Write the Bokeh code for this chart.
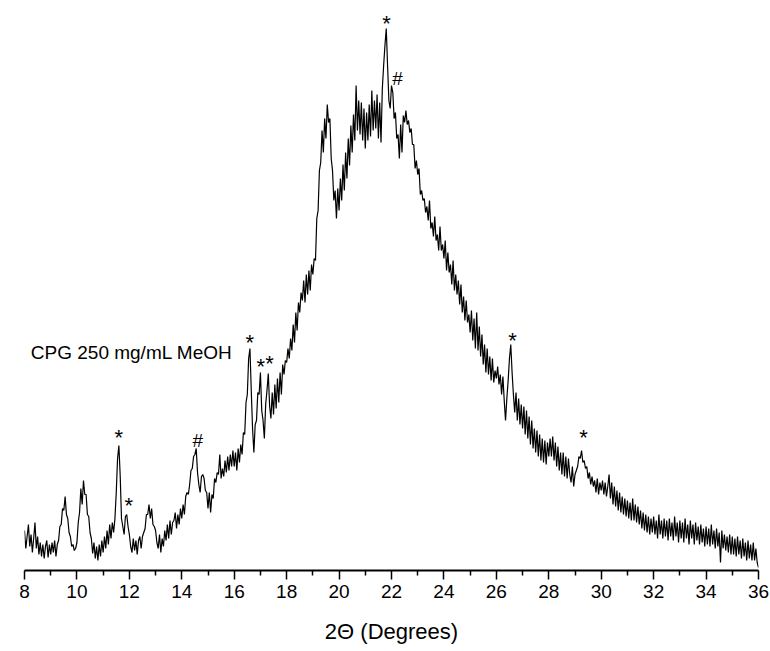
import numpy as np
from bokeh.plotting import figure
from bokeh.models import Range1d, FixedTicker, Label, ColumnDataSource
from bokeh.core.properties import value
from bokeh.embed import file_html
from bokeh.resources import INLINE

# 2-theta sampling grid: 8.00 .. 36.00 in 0.05 degree steps
two_theta_start = 8.0
two_theta_step = 0.05

# Intensity (arbitrary units), one row per degree (x.00 .. x.95)
intensity = (
    [40, 22, 34, 46, 24, 36, 18, 32, 48, 22, 34, 16, 28, 14, 26, 12, 24, 30, 13, 26]        # 8
    + [16, 28, 18, 30, 14, 26, 30, 44, 46, 62, 60, 74, 56, 52, 38, 34, 24, 26, 20, 22]      # 9
    + [28, 48, 58, 82, 66, 90, 76, 76, 56, 54, 38, 32, 17, 28, 12, 24, 10, 26, 14, 30]      # 10
    + [18, 34, 22, 40, 26, 46, 32, 48, 38, 52, 78, 112, 125, 95, 52, 44, 36, 54, 56, 44]    # 11
    + [36, 24, 18, 32, 20, 30, 16, 30, 34, 22, 34, 38, 42, 56, 56, 66, 52, 62, 46, 44]      # 12
    + [40, 28, 22, 36, 18, 32, 24, 40, 30, 46, 32, 50, 36, 48, 50, 58, 42, 56, 46, 62]      # 13
    + [52, 66, 56, 74, 78, 76, 86, 100, 102, 114, 116, 122, 98, 86, 78, 94, 96, 92, 80, 78]  # 14
    + [62, 78, 58, 76, 72, 92, 88, 98, 96, 116, 92, 102, 94, 110, 98, 114, 100, 116, 104, 120]  # 15
    + [104, 118, 100, 122, 108, 126, 116, 138, 136, 168, 176, 212, 222, 180, 142, 118, 146, 150, 178, 176]  # 16
    + [198, 160, 150, 132, 166, 180, 197, 165, 152, 178, 156, 186, 162, 192, 168, 198, 176, 206, 196, 210]  # 17
    + [208, 222, 212, 232, 220, 246, 228, 258, 240, 268, 258, 278, 270, 290, 268, 296, 276, 300, 280, 306]  # 18
    + [296, 312, 310, 352, 360, 400, 408, 440, 418, 452, 432, 466, 448, 452, 412, 400, 370, 380, 352, 382]  # 19
    + [360, 392, 370, 406, 380, 418, 392, 432, 405, 445, 418, 456, 430, 485, 440, 470, 436, 468, 430, 462]  # 20
    + [422, 458, 430, 466, 434, 480, 440, 470, 442, 476, 432, 468, 428, 482, 505, 525, 542, 505, 470, 462]  # 21
    + [485, 478, 452, 458, 432, 436, 412, 446, 418, 455, 448, 460, 446, 450, 438, 442, 426, 426, 402, 410]  # 22
    + [396, 402, 376, 380, 370, 372, 358, 364, 350, 370, 342, 348, 334, 354, 330, 336, 320, 344, 320, 326]  # 23
    + [312, 330, 300, 318, 298, 306, 286, 310, 280, 296, 276, 290, 266, 286, 258, 274, 250, 270, 248, 256]  # 24
    + [238, 260, 230, 252, 222, 258, 220, 244, 214, 236, 206, 226, 198, 222, 196, 214, 190, 212, 188, 200]  # 25
    + [192, 204, 186, 196, 176, 194, 170, 150, 172, 190, 212, 226, 198, 176, 158, 178, 150, 172, 146, 166]  # 26
    + [142, 164, 136, 160, 132, 154, 126, 150, 122, 142, 118, 140, 114, 136, 110, 132, 108, 130, 106, 128]  # 27
    + [114, 132, 114, 134, 110, 128, 104, 124, 100, 118, 96, 118, 94, 114, 92, 112, 96, 88, 104, 84]        # 28
    + [96, 100, 104, 114, 112, 120, 108, 110, 102, 104, 92, 98, 86, 94, 84, 90, 78, 92, 76, 88]            # 29
    + [80, 90, 76, 88, 74, 84, 96, 72, 88, 66, 84, 64, 80, 60, 78, 58, 74, 56, 72, 54]                     # 30
    + [70, 52, 68, 50, 72, 50, 66, 48, 64, 46, 60, 42, 58, 40, 56, 38, 54, 36, 52, 38]                     # 31
    + [54, 36, 50, 32, 56, 36, 50, 32, 52, 34, 50, 30, 52, 34, 48, 30, 54, 34, 48, 28]                     # 32
    + [50, 32, 48, 28, 52, 32, 46, 26, 50, 32, 46, 26, 48, 30, 44, 26, 46, 28, 42, 24]                     # 33
    + [44, 26, 42, 24, 46, 26, 40, 22, 42, 24, 38, 8, 40, 22, 36, 20, 34, 18, 36, 16]                      # 34
    + [34, 16, 32, 14, 34, 16, 30, 12, 32, 14, 28, 10, 30, 12, 26, 10, 28, 10, 22, 8]                      # 35
    + [3]                                                                                                  # 36
)
two_theta = np.round(two_theta_start + two_theta_step * np.arange(len(intensity)), 2)

# Peak markers
mark_x = [11.60, 11.98, 14.61, 16.59, 17.01, 17.35, 21.81, 22.23, 26.62, 29.33]
mark_y = [138, 70, 130, 233, 209, 212, 552, 492, 235, 138]
mark_text = ["*", "*", "#", "*", "*", "*", "*", "#", "*", "*"]

major_ticks = [8, 10, 12, 14, 16, 18, 20, 22, 24, 26, 28, 30, 32, 34, 36]
minor_ticks = [9, 11, 13, 15, 17, 19, 21, 23, 25, 27, 29, 31, 33, 35]

sample_label = "CPG 250 mg/mL MeOH"
x_title = "2\u0398 (Degrees)"

FONT = "Liberation Sans"

p = figure(width=770, height=651, output_backend="svg", toolbar_location=None,
           x_range=Range1d(8, 36), y_range=Range1d(0, 570),
           y_axis_location=None, min_border_left=24, min_border_right=12,
           min_border_top=0, min_border_bottom=81)
p.outline_line_color = None
p.xgrid.visible = False
p.ygrid.visible = False
p.background_fill_color = "white"
p.border_fill_color = "white"

p.line(two_theta, intensity, line_color="black", line_width=1.2)

mark_size = ["22px" if t == "*" else "19px" for t in mark_text]
mark_off = [5 if t == "*" else 0 for t in mark_text]
src = ColumnDataSource(dict(x=mark_x, y=mark_y, t=mark_text, s=mark_size, o=mark_off))
p.text(x="x", y="y", text="t", source=src, text_align="center", text_baseline="middle",
       text_font=value(FONT), text_font_size="s", y_offset="o", text_color="black")

p.add_layout(Label(x=8.24, y=218, text=sample_label, text_align="left", text_baseline="middle",
                   text_font=FONT, text_font_size="19px", text_color="black"))

ax = p.xaxis[0]
ax.ticker = FixedTicker(ticks=major_ticks, minor_ticks=minor_ticks)
ax.axis_line_width = 2
ax.axis_line_color = "black"
ax.major_tick_line_width = 1.5
ax.major_tick_line_color = "black"
ax.minor_tick_line_width = 1.5
ax.minor_tick_line_color = "black"
ax.major_tick_in = 0
ax.major_tick_out = 9
ax.minor_tick_in = 0
ax.minor_tick_out = 5
ax.major_label_text_font = FONT
ax.major_label_text_font_size = "19px"
ax.major_label_text_color = "black"
ax.major_label_standoff = 5
ax.axis_label = x_title
ax.axis_label_text_font = FONT
ax.axis_label_text_font_size = "22px"
ax.axis_label_text_font_style = "normal"
ax.axis_label_text_color = "black"
ax.axis_label_standoff = 18

open("out.html", "w").write(file_html(p, INLINE))
